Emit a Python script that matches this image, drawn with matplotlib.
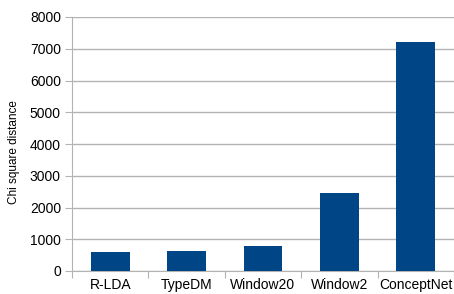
import matplotlib.pyplot as plt
import numpy as np

plt.rcParams['font.family'] = ['Liberation Sans', 'DejaVu Sans']

# data
models = ["R-LDA", "TypeDM", "Window20", "Window2", "ConceptNet"]
chi_sq = [600, 630, 790, 2460, 7210]
y_ticks = [0, 1000, 2000, 3000, 4000, 5000, 6000, 7000, 8000]

fig = plt.figure(figsize=(4.54, 2.94), dpi=100)
ax = fig.add_axes([72 / 454, (294 - 271) / 294, 382 / 454, 254 / 294])

x = np.arange(len(models))
ax.bar(x, chi_sq, width=0.51, color="#004586", zorder=3)

ax.set_xlim(-0.5, len(models) - 0.5)
ax.set_ylim(0, 8000)
ax.set_yticks(y_ticks)
ax.yaxis.grid(True, color="#b3b3b3", linewidth=1, zorder=0)

# category boundary ticks on x axis
ax.set_xticks(np.arange(-0.5, len(models) + 0.5, 1), minor=False)
ax.set_xticklabels([])
ax.set_xticks(x, minor=True)
ax.set_xticklabels(models, minor=True, fontsize=10)
ax.tick_params(axis="x", which="minor", length=0, pad=5)
ax.tick_params(axis="x", which="major", length=5, color="#b3b3b3")
ax.tick_params(axis="y", length=5, color="#b3b3b3", labelsize=10, pad=3)

for side in ["top", "right"]:
    ax.spines[side].set_visible(False)
ax.spines["left"].set_color("#b3b3b3")
ax.spines["bottom"].set_color("#b3b3b3")

ax.set_ylabel("Chi square distance", fontsize=8.5)
ax.yaxis.set_label_coords(-0.135, 0.47)

fig.savefig("out.png", dpi=100)
